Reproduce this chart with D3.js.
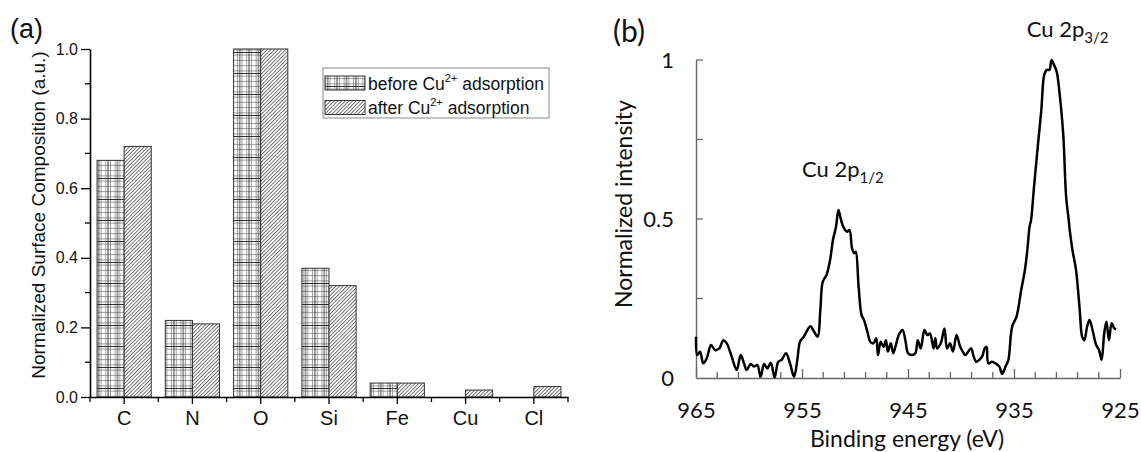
<!DOCTYPE html>
<html>
<head>
<meta charset="utf-8">
<script src="https://cdn.jsdelivr.net/npm/d3@7/dist/d3.min.js"></script>
<style>
  html, body { margin: 0; padding: 0; background: #fff; }
  svg { display: block; }
</style>
</head>
<body>
<svg id="fig" width="1141" height="452"></svg>
<script>
// (a) composición superficial normalizada
const elements = ['C', 'N', 'O', 'Si', 'Fe', 'Cu', 'Cl'];
const beforeValues = [0.68, 0.22, 1.0, 0.37, 0.04, 0, 0];
const afterValues = [0.72, 0.21, 1.0, 0.32, 0.04, 0.02, 0.03];
const yTicksA = [0, 0.2, 0.4, 0.6, 0.8, 1.0];
const yMinorA = [0.1, 0.3, 0.5, 0.7, 0.9];

// (b) espectro Cu 2p
const energy = [
  965.0, 964.88, 964.62, 964.31, 963.99, 963.58, 963.21, 962.80, 962.42, 962.10,
  961.63, 961.16, 960.78, 960.47, 960.22, 959.84, 959.53, 959.22, 958.90, 958.58,
  958.27, 957.95, 957.58, 957.24, 956.92, 956.51, 956.13, 955.75, 955.44, 955.19,
  954.83, 954.21, 953.87, 953.52, 953.27, 953.04, 952.69, 952.35, 952.08, 951.79,
  951.56, 951.32, 951.04, 950.75, 950.52, 950.28, 950.07, 949.93, 949.66, 949.38,
  949.15, 948.79, 948.56, 948.27, 948.00, 947.83, 947.58, 947.31, 947.08, 946.90,
  946.62, 946.39, 946.10, 945.87, 945.52, 945.25, 945.00, 944.66, 944.31, 944.08,
  943.80, 943.45, 943.18, 942.93, 942.59, 942.42, 942.25, 941.91, 941.56, 941.32,
  941.04, 940.76, 940.42, 940.08, 939.83, 939.59, 939.32, 939.04, 938.80, 938.56,
  938.28, 938.01, 937.76, 937.59, 937.42, 937.08, 936.74, 936.39, 936.11, 935.80,
  935.53, 935.18, 934.76, 934.32, 933.97, 933.74, 933.53, 933.39, 933.11, 932.76,
  932.42, 932.15, 931.91, 931.66, 931.46, 931.22, 930.97, 930.70, 930.36, 930.08,
  929.84, 929.74, 929.49, 929.15, 928.80, 928.57, 928.36, 928.11, 927.88, 927.59,
  927.25, 926.98, 926.74, 926.49, 926.28, 926.04, 925.79, 925.53, 925.36
];
const intensity = [
  0.130, 0.072, 0.083, 0.046, 0.062, 0.104, 0.088, 0.093, 0.119, 0.109,
  0.067, 0.025, 0.072, 0.046, 0.025, 0.044, 0.036, 0.041, 0.004, 0.044,
  0.030, 0.048, 0.002, 0.051, 0.057, 0.078, 0.046, 0.004, 0.057, 0.114,
  0.130, 0.163, 0.146, 0.130, 0.214, 0.303, 0.324, 0.371, 0.434, 0.476,
  0.528, 0.497, 0.471, 0.460, 0.465, 0.408, 0.392, 0.397, 0.287, 0.198,
  0.182, 0.140, 0.114, 0.109, 0.125, 0.072, 0.114, 0.098, 0.119, 0.083,
  0.109, 0.078, 0.109, 0.135, 0.151, 0.119, 0.078, 0.072, 0.078, 0.119,
  0.093, 0.151, 0.135, 0.140, 0.093, 0.125, 0.093, 0.109, 0.156, 0.093,
  0.109, 0.083, 0.135, 0.098, 0.083, 0.072, 0.083, 0.093, 0.067, 0.051,
  0.057, 0.067, 0.093, 0.098, 0.046, 0.051, 0.046, 0.036, 0.013, 0.036,
  0.057, 0.161, 0.193, 0.277, 0.340, 0.403, 0.476, 0.497, 0.602, 0.727,
  0.843, 0.953, 0.969, 0.969, 1.000, 0.984, 0.963, 0.895, 0.769, 0.570,
  0.497, 0.465, 0.403, 0.340, 0.214, 0.130, 0.119, 0.161, 0.182, 0.151,
  0.104, 0.088, 0.057, 0.140, 0.177, 0.119, 0.172, 0.156, 0.153
];
const xTicksB = [965, 955, 945, 935, 925];
const yTicksB = [0, 0.5, 1];

const svg = d3.select('#fig');
const defs = svg.append('defs');

// Tramas (cuadrícula y rayado)
const grid = defs.append('pattern')
  .attr('id', 'grid').attr('patternUnits', 'userSpaceOnUse')
  .attr('width', 9.4).attr('height', 21);
grid.append('rect').attr('width', 9.4).attr('height', 21).attr('fill', '#fff');
[2.35, 7.05].forEach(x => grid.append('line')
  .attr('x1', x).attr('x2', x).attr('y1', 0).attr('y2', 21)
  .attr('stroke', '#777').attr('stroke-width', 0.7));
[2.6, 7.9, 13.1, 18.4].forEach(y => grid.append('line')
  .attr('x1', 0).attr('x2', 9.4).attr('y1', y).attr('y2', y)
  .attr('stroke', '#777').attr('stroke-width', 0.7));
grid.append('line').attr('x1', 4.7).attr('x2', 4.7).attr('y1', 0).attr('y2', 21)
  .attr('stroke', '#222').attr('stroke-width', 0.9);
grid.append('line').attr('x1', 0).attr('x2', 9.4).attr('y1', 10.5).attr('y2', 10.5)
  .attr('stroke', '#222').attr('stroke-width', 0.9);

const hatch = defs.append('pattern')
  .attr('id', 'hatch').attr('patternUnits', 'userSpaceOnUse')
  .attr('width', 2.6).attr('height', 10)
  .attr('patternTransform', 'rotate(45)');
hatch.append('rect').attr('width', 2.6).attr('height', 10).attr('fill', '#fff');
hatch.append('line').attr('x1', 0.4).attr('x2', 0.4).attr('y1', 0).attr('y2', 10)
  .attr('stroke', '#333').attr('stroke-width', 0.75);

// ---------- PANEL (a) ----------
const fontA = 'Liberation Sans, Arial, sans-serif';
const xA = d3.scaleBand().domain(elements).range([90, 568]).padding(0);
const xSub = d3.scaleBand().domain(['before', 'after'])
  .range([0, xA.bandwidth()]).paddingInner(0).paddingOuter(0.26);
const yA = d3.scaleLinear().domain([0, 1]).range([397, 49]);

const gA = svg.append('g');

const series = [
  { key: 'before', values: beforeValues, fill: 'url(#grid)' },
  { key: 'after', values: afterValues, fill: 'url(#hatch)' }
];
series.forEach(s => {
  gA.selectAll(null)
    .data(elements.map((e, i) => ({ e, v: s.values[i] })).filter(d => d.v > 0))
    .enter().append('rect')
    .attr('x', d => xA(d.e) + xSub(s.key))
    .attr('y', d => yA(d.v))
    .attr('width', xSub.bandwidth())
    .attr('height', d => yA(0) - yA(d.v))
    .attr('fill', s.fill)
    .attr('stroke', '#333')
    .attr('stroke-width', 1);
});

// eje Y
const yAxisA = gA.append('g').attr('transform', 'translate(90,0)')
  .call(d3.axisLeft(yA).tickValues(yTicksA).tickFormat(d3.format('.1f'))
    .tickSize(9).tickSizeOuter(0).tickPadding(3));
yMinorA.forEach(v => gA.append('line')
  .attr('x1', 85).attr('x2', 90).attr('y1', yA(v)).attr('y2', yA(v))
  .attr('stroke', '#000').attr('stroke-width', 1.3));
yAxisA.select('.domain').attr('stroke-width', 1.6);
yAxisA.selectAll('.tick line').attr('stroke-width', 1.3);
yAxisA.selectAll('.tick text').attr('font-family', fontA).attr('font-size', 16).attr('fill', '#111');

// eje X
const xAxisA = gA.append('g').attr('transform', 'translate(0,397)')
  .call(d3.axisBottom(xA).tickSize(7).tickSizeOuter(0).tickPadding(7));
xAxisA.select('.domain').attr('stroke-width', 1.6);
xAxisA.selectAll('.tick line').attr('stroke-width', 1.3);
xAxisA.selectAll('.tick text').attr('font-family', fontA).attr('font-size', 20).attr('fill', '#111');
d3.range(elements.length + 1).forEach(i => {
  const x = 90 + i * xA.step();
  gA.append('line').attr('x1', x).attr('x2', x).attr('y1', 397).attr('y2', 402)
    .attr('stroke', '#000').attr('stroke-width', 1.3);
});

gA.append('text')
  .attr('transform', 'translate(45,215) rotate(-90)')
  .attr('text-anchor', 'middle')
  .attr('font-family', fontA).attr('font-size', 19).attr('fill', '#111')
  .text('Normalized Surface Composition (a.u.)');

gA.append('text').attr('x', 10).attr('y', 38)
  .attr('font-family', fontA).attr('font-size', 27).attr('fill', '#111')
  .text('(a)');

// leyenda
const leg = gA.append('g').attr('transform', 'translate(323,68)');
leg.append('rect').attr('width', 226).attr('height', 50)
  .attr('fill', '#fff').attr('stroke', '#888').attr('stroke-width', 1);
const legItems = [
  { fill: 'url(#grid)', word: 'before' },
  { fill: 'url(#hatch)', word: 'after' }
];
legItems.forEach((it, i) => {
  const row = leg.append('g').attr('transform', `translate(0,${8 + i * 24.5})`);
  row.append('rect').attr('x', 2).attr('y', 0).attr('width', 40).attr('height', 14)
    .attr('fill', it.fill).attr('stroke', '#333').attr('stroke-width', 1);
  const t = row.append('text').attr('x', 45).attr('y', 13.5)
    .attr('font-family', fontA).attr('font-size', 17.5).attr('fill', '#111');
  t.append('tspan').text(it.word + ' Cu');
  t.append('tspan').attr('font-size', 11).attr('dy', -8).text('2+');
  t.append('tspan').attr('dy', 8).text(' adsorption');
});

// ---------- PANEL (b) ----------
const fontB = 'Lato, "Noto Sans", sans-serif';
const xB = d3.scaleLinear().domain([965, 925]).range([696, 1120]);
const yB = d3.scaleLinear().domain([0, 1]).range([378, 60]);
const gB = svg.append('g');
const axisColor = '#666';

const xAxisB = gB.append('g').attr('transform', 'translate(0,378)')
  .call(d3.axisBottom(xB).tickValues(xTicksB).tickFormat(d3.format('d'))
    .tickSize(-9).tickSizeOuter(0).tickPadding(24));
xAxisB.selectAll('.tick line').attr('stroke', axisColor).attr('stroke-width', 1.3);
xAxisB.select('.domain').attr('stroke', axisColor).attr('stroke-width', 1.4);
xAxisB.selectAll('.tick text').attr('font-family', fontB).attr('font-size', 22).attr('fill', '#111');
d3.range(963, 925, -2).filter(v => (965 - v) % 10 !== 0).forEach(v => {
  gB.append('line').attr('x1', xB(v)).attr('x2', xB(v)).attr('y1', 378).attr('y2', 372)
    .attr('stroke', axisColor).attr('stroke-width', 1.3);
});

const yAxisB = gB.append('g').attr('transform', 'translate(696,0)')
  .call(d3.axisLeft(yB).tickValues(yTicksB).tickFormat(d => d)
    .tickSize(0).tickSizeOuter(0).tickPadding(22));
yAxisB.select('.domain').attr('stroke', axisColor).attr('stroke-width', 1.4);
yAxisB.selectAll('.tick text').attr('font-family', fontB).attr('font-size', 22).attr('fill', '#111');
[0.25, 0.5, 0.75, 1].forEach(v => gB.append('line')
  .attr('x1', 696).attr('x2', 703).attr('y1', yB(v)).attr('y2', yB(v))
  .attr('stroke', axisColor).attr('stroke-width', 1.3));

const line = d3.line()
  .x((d, i) => xB(energy[i]))
  .y((d, i) => yB(intensity[i]))
  .curve(d3.curveCatmullRom.alpha(0.5));
gB.append('path').attr('d', line(intensity))
  .attr('fill', 'none').attr('stroke', '#000').attr('stroke-width', 2.5)
  .attr('stroke-linejoin', 'round');

gB.append('text').attr('x', 907).attr('y', 447).attr('text-anchor', 'middle')
  .attr('font-family', fontB).attr('font-size', 23).attr('fill', '#111')
  .text('Binding energy (eV)');

gB.append('text')
  .attr('transform', 'translate(632,204) rotate(-90)')
  .attr('text-anchor', 'middle')
  .attr('font-family', fontB).attr('font-size', 23).attr('fill', '#111')
  .text('Normalized intensity');

gB.append('text').attr('x', 613).attr('y', 42)
  .attr('font-family', fontB).attr('font-size', 30).attr('fill', '#111')
  .text('(b)');

function peakLabel(eV, v, sub) {
  const t = gB.append('text').attr('x', xB(eV)).attr('y', yB(v))
    .attr('font-family', fontB).attr('font-size', 22).attr('fill', '#111');
  t.append('tspan').text('Cu 2p');
  t.append('tspan').attr('font-size', 15).attr('dy', 6).text(sub);
}
peakLabel(933.8, 1.071, '3/2');
peakLabel(955.0, 0.633, '1/2');
</script>
</body>
</html>
